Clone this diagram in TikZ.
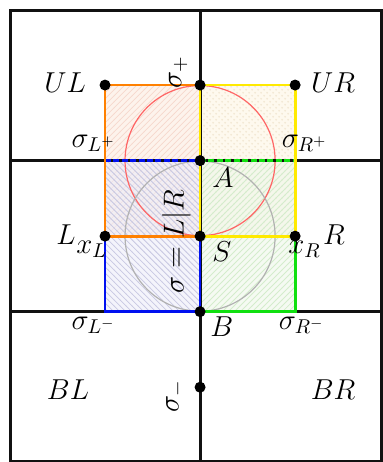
\documentclass[tikz,border=0pt]{standalone}
\usepackage{amsmath,amssymb}
\usepackage{tikz}
\usepackage{xcolor}
\usetikzlibrary{patterns,calc}
\definecolor{edgeorange}{HTML}{FF8000}
\definecolor{edgeyellow}{HTML}{FFEA00}
\definecolor{edgeblue}{HTML}{0010F0}
\definecolor{edgegreen}{HTML}{10E010}
\definecolor{orangebg}{HTML}{FDF3EC}
\definecolor{yellowbg}{HTML}{FEF9EE}
\definecolor{bluebg}{HTML}{ECECF8}
\definecolor{greenbg}{HTML}{EEF7EA}
\definecolor{orangehatch}{HTML}{F6D8CC}
\definecolor{yellowhatch}{HTML}{F2E8D4}
\definecolor{bluehatch}{HTML}{C8C8E2}
\definecolor{greenhatch}{HTML}{D4ECCC}
\definecolor{ink}{HTML}{111111}
\tikzset{
  gridline/.style={draw=ink,line width=1.5pt},
  edge/.style={line width=1.4pt},
  dashedge/.style={line width=1.8pt,dash pattern=on 3pt off 1.2pt},
  dot/.style={circle,fill=black,inner sep=0pt,minimum size=5.5pt},
  lbl/.style={font=\Large,inner sep=0pt},
  redcirc/.style={draw=red!60,line width=0.6pt},
  graycirc/.style={draw=gray!60,line width=0.6pt}
}

\begin{document}
\begin{tikzpicture}[x=47.5pt,y=37.75pt]
    \path[use as bounding box] (-2.105,-2.99) rectangle (1.916,3.126);
    % grid points
    \coordinate (ul) at (-1,2);
    \coordinate (sp) at (0,2);
    \coordinate (ur) at (1,2);
    \coordinate (lp) at (-1,1);
    \coordinate (a) at (0,1);
    \coordinate (rp) at (1,1);
    \coordinate (l) at (-1,0);
    \coordinate (s) at (0,0);
    \coordinate (r) at (1,0);
    \coordinate (lm) at (-1,-1);
    \coordinate (b) at (0,-1);
    \coordinate (rm) at (1,-1);
    \coordinate (sm) at (0,-2);
    % shaded quarters
    \fill[orangebg] (l) rectangle (sp);
    \fill[pattern=north east lines,pattern color=orangehatch] (l) rectangle (sp);
    \fill[yellowbg] (s) rectangle (ur);
    \fill[pattern=crosshatch dots,pattern color=yellowhatch] (s) rectangle (ur);
    \fill[bluebg,fill opacity=0.6] (lm) rectangle (a);
    \fill[pattern=north west lines,pattern color=bluehatch] (lm) rectangle (a);
    \fill[greenbg,fill opacity=0.6] (b) rectangle (rp);
    \fill[pattern=north east lines,pattern color=greenhatch] (b) rectangle (rp);
    % circles
    \draw[redcirc] (a) circle[radius=37.5pt];
    \draw[graycirc] (s) circle[radius=37.5pt];
    % frame and axes
    \draw[gridline] (-1.99,-2.985) rectangle (1.905,2.99);
    \draw[gridline] (-1.99,1) -- (1.905,1);
    \draw[gridline] (-1.99,-1) -- (1.905,-1);
    \draw[gridline] (0,2.99) -- (0,-2.985);
    % quarter outlines
    \draw[edge,edgegreen] (s) -- (r) -- (rm) -- (b) -- cycle;
    \draw[dashedge,edgegreen] (a) -- (rp);
    \draw[edge,edgeblue] (l) -- (lm) -- (b) -- (s);
    \draw[dashedge,edgeblue] (lp) -- (a);
    \draw[edge,edgeorange] (l) rectangle (sp);
    \draw[edge,edgeyellow] (s) rectangle (ur);
    % dots
    \foreach \p in {ul,sp,ur,a,l,s,r,b,sm}
      \node[dot] (\p-dot) at (\p) {};
    % labels
    \node[lbl] (ul-lbl) at (-1.42,2.03) {$UL$};
    \node[lbl] (ur-lbl) at (1.40,2.03) {$UR$};
    \node[lbl,rotate=90] (sp-lbl) at (-0.23,2.17) {$\sigma_+$};
    \node[lbl] (lp-lbl) at (-1.12,1.23) {$\sigma_{L^+}$};
    \node[lbl] (rp-lbl) at (1.10,1.23) {$\sigma_{R^+}$};
    \node[lbl] (a-lbl) at (0.24,0.77) {$A$};
    \node[lbl,rotate=90] (sig-lbl) at (-0.25,-0.07) {$\sigma=L|R$};
    \node[lbl] (l-lbl) at (-1.41,0.02) {$L$};
    \node[lbl] (xl-lbl) at (-1.14,-0.17) {$x_L$};
    \node[lbl] (xr-lbl) at (1.10,-0.17) {$x_R$};
    \node[lbl] (r-lbl) at (1.41,0.02) {$R$};
    \node[lbl] (s-lbl) at (0.23,-0.21) {$S$};
    \node[lbl] (b-lbl) at (0.23,-1.20) {$B$};
    \node[lbl] (lm-lbl) at (-1.12,-1.18) {$\sigma_{L^-}$};
    \node[lbl] (rm-lbl) at (1.07,-1.18) {$\sigma_{R^-}$};
    \node[lbl] (bl-lbl) at (-1.39,-2.03) {$BL$};
    \node[lbl] (br-lbl) at (1.40,-2.03) {$BR$};
    \node[lbl,rotate=90] (sm-lbl) at (-0.26,-2.12) {$\sigma_-$};
  \end{tikzpicture}
\end{document}
